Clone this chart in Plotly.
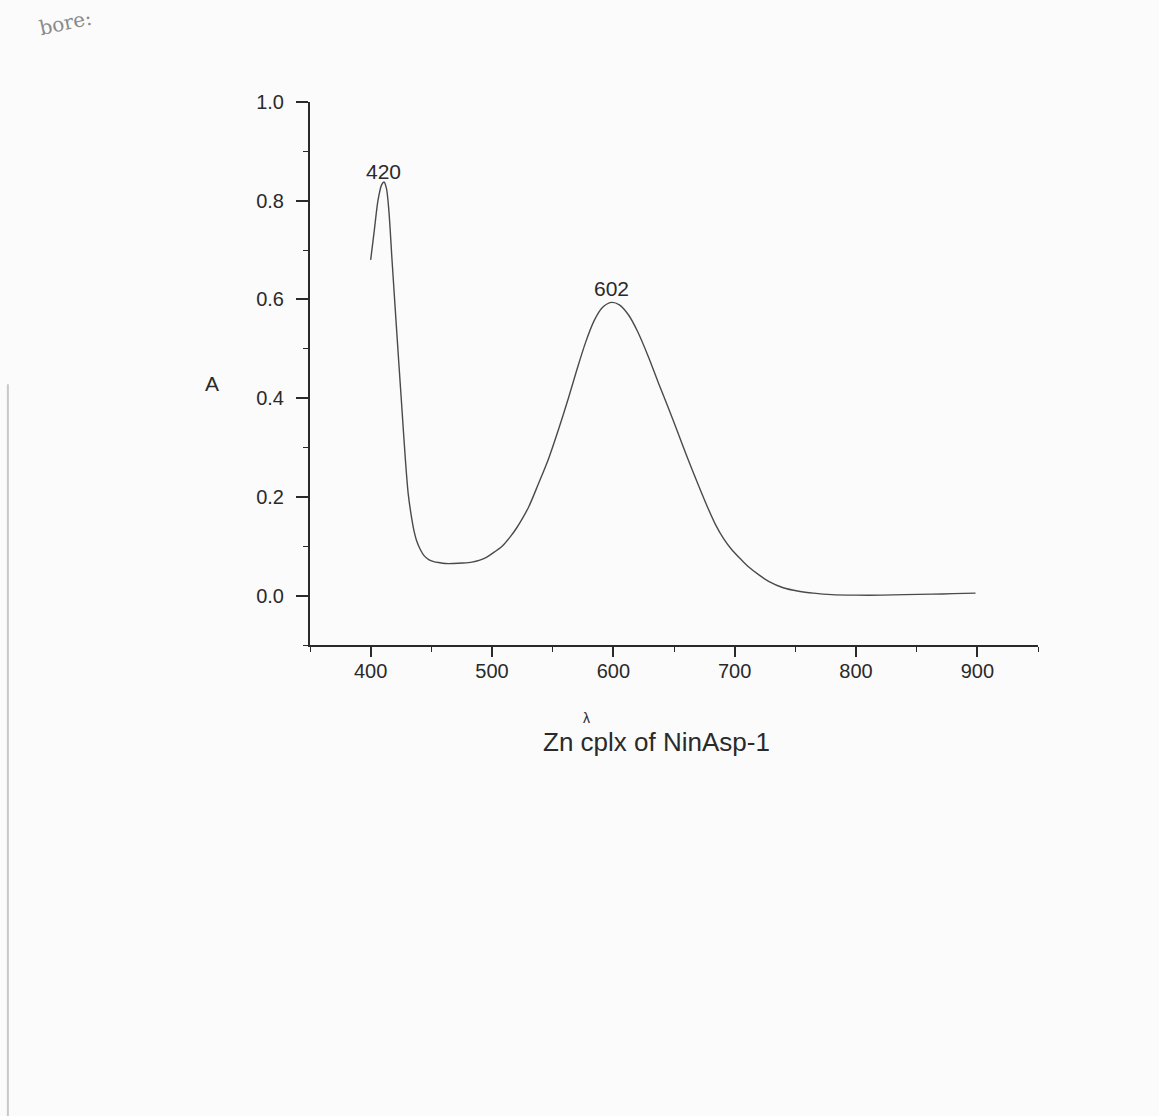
import plotly.graph_objects as go

# Spectrum
wavelength = [400, 403, 406, 409, 411, 413, 415, 417.6, 420, 423, 426, 428.6, 431, 434, 436, 438,
              441, 444, 447.8, 452, 456, 461.6, 468, 476, 483.5, 490, 495, 500, 508.3, 515, 520,
              525, 530.3, 538, 546.7, 555, 563.2, 570, 577, 584, 590.8, 598.4, 605, 612.7, 620,
              629.2, 637, 645.7, 654, 662.2, 670.4, 677, 684, 691, 698, 705, 711.6, 720, 728,
              740, 752.8, 765, 780, 800, 821.5, 840, 862.8, 880, 898.5]
absorbance = [0.68, 0.74, 0.80, 0.832, 0.838, 0.825, 0.78, 0.68, 0.59, 0.479, 0.37, 0.276, 0.205,
              0.154, 0.128, 0.110, 0.093, 0.081, 0.073, 0.069, 0.067, 0.065, 0.065, 0.066, 0.068,
              0.072, 0.077, 0.085, 0.10, 0.119, 0.136, 0.156, 0.180, 0.225, 0.278, 0.338, 0.402,
              0.458, 0.512, 0.556, 0.583, 0.594, 0.589, 0.568, 0.535, 0.482, 0.432, 0.378, 0.325,
              0.272, 0.222, 0.183, 0.145, 0.115, 0.092, 0.074, 0.058, 0.042, 0.029, 0.016, 0.009,
              0.005, 0.002, 0.001, 0.001, 0.002, 0.003, 0.004, 0.005]

peak_labels = ["420", "602"]
peak_x = [410.7, 598.3]
peak_y = [0.86, 0.623]

x_ticks = [400, 500, 600, 700, 800, 900]
y_ticks = [0.0, 0.2, 0.4, 0.6, 0.8, 1.0]

FONT = "Liberation Sans, Arial, sans-serif"
INK = "#2a2a2a"

fig = go.Figure()
fig.add_trace(go.Scatter(
    x=wavelength, y=absorbance, mode="lines",
    line=dict(color="#4a4a4a", width=1.4, shape="spline", smoothing=0.8),
    showlegend=False, hoverinfo="skip",
))

for lab, px, py in zip(peak_labels, peak_x, peak_y):
    fig.add_annotation(x=px, y=py, xref="x", yref="y", text=lab, showarrow=False,
                       xanchor="center", yanchor="middle",
                       font=dict(family=FONT, size=21, color=INK))

# axis titles
fig.add_annotation(x=-0.1346, y=0.4825, xref="paper", yref="paper", text="A",
                   showarrow=False, xanchor="center", yanchor="middle",
                   font=dict(family=FONT, size=21, color=INK))
fig.add_annotation(x=0.4766, y=-0.178, xref="paper", yref="paper",
                   text="Zn cplx of NinAsp-1", showarrow=False,
                   xanchor="center", yanchor="middle",
                   font=dict(family=FONT, size=26, color=INK))
fig.add_annotation(x=0.38, y=-0.134, xref="paper", yref="paper", text="λ",
                   showarrow=False, xanchor="center", yanchor="middle",
                   font=dict(family=FONT, size=14, color=INK))

# handwritten note at top-left
fig.add_annotation(x=-0.3365, y=1.145, xref="paper", yref="paper", text="bore:",
                   showarrow=False, textangle=-12, xanchor="center", yanchor="middle",
                   font=dict(family="DejaVu Serif, serif", size=20, color="#8a8a8a"))

# scan edge line on the left
fig.add_shape(type="line", xref="paper", yref="paper", x0=-0.415, x1=-0.415,
              y0=0.48, y1=-0.87, line=dict(color="#c8c8c8", width=2))

fig.update_xaxes(
    range=[350, 950], tickvals=x_ticks, ticks="outside", ticklen=10, tickwidth=1.6,
    tickcolor=INK, showline=True, linecolor=INK, linewidth=2, showgrid=False,
    zeroline=False, tickfont=dict(family=FONT, size=20, color=INK), ticklabelstandoff=-3,
    minor=dict(dtick=50, tick0=350, ticks="outside", ticklen=5, tickcolor=INK, tickwidth=1.4,
               showgrid=False),
)
fig.update_yaxes(
    range=[-0.1, 1.0], tickvals=y_ticks, tickformat=".1f", ticks="outside", ticklen=12,
    tickwidth=1.6, tickcolor=INK, showline=True, linecolor=INK, linewidth=2, showgrid=False,
    zeroline=False, tickfont=dict(family=FONT, size=20, color=INK), ticklabelstandoff=8,
    minor=dict(dtick=0.1, tick0=-0.1, ticks="outside", ticklen=5, tickcolor=INK, tickwidth=1.4,
               showgrid=False),
)

fig.update_layout(
    width=1159, height=1116,
    margin=dict(l=310, r=121, t=102, b=471),
    paper_bgcolor="#fbfbfc", plot_bgcolor="#fbfbfc",
    showlegend=False,
)

fig.write_html("out.html")
